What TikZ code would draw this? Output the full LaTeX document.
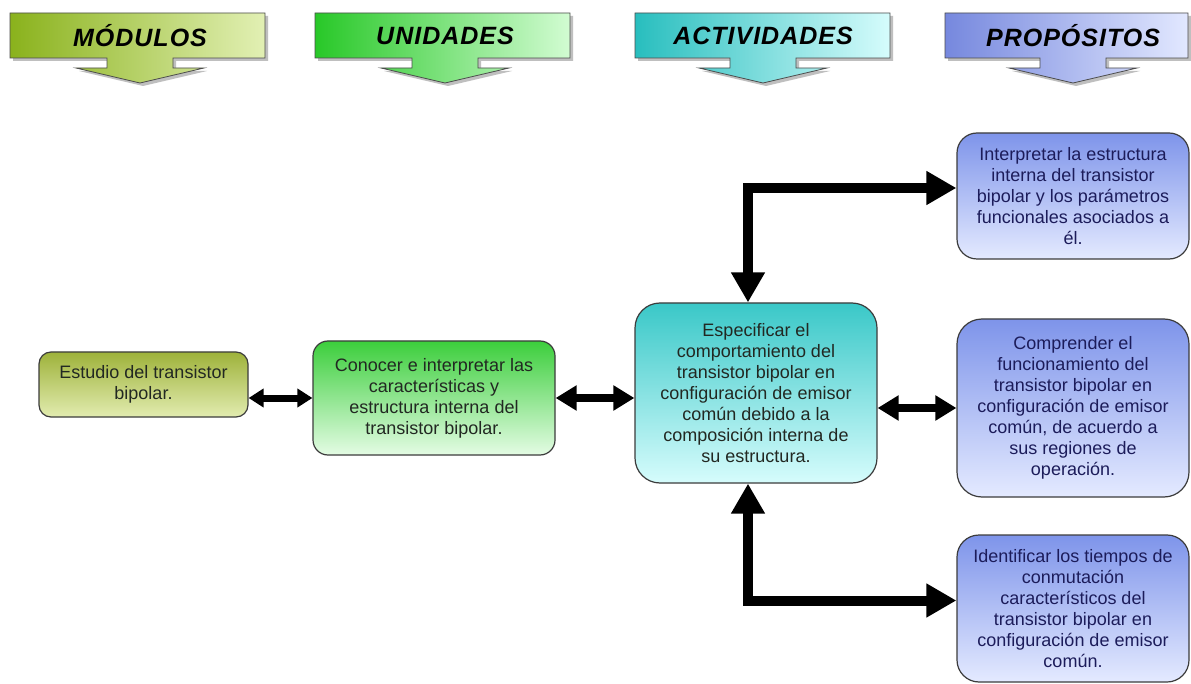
\documentclass[tikz,border=0pt]{standalone}
\usepackage{fontspec}
\setmainfont{Liberation Sans}
\newfontfamily\headfont[LetterSpace=4]{Liberation Sans}
\usetikzlibrary{arrows.meta}

% banner colours (left -> right)
\definecolor{modL}{RGB}{138,178,28}
\definecolor{modR}{RGB}{226,240,180}
\definecolor{uniL}{RGB}{40,200,40}
\definecolor{uniR}{RGB}{210,252,210}
\definecolor{actL}{RGB}{40,190,190}
\definecolor{actR}{RGB}{214,252,252}
\definecolor{proL}{RGB}{118,136,222}
\definecolor{proR}{RGB}{226,232,255}
% box colours (top -> bottom)
\definecolor{modT}{RGB}{158,178,58}
\definecolor{modB}{RGB}{226,236,176}
\definecolor{uniT}{RGB}{60,206,60}
\definecolor{uniB}{RGB}{228,252,228}
\definecolor{actT}{RGB}{58,200,200}
\definecolor{actB}{RGB}{214,252,252}
\definecolor{proT}{RGB}{126,148,234}
\definecolor{proB}{RGB}{228,234,255}
\definecolor{boxline}{RGB}{60,60,60}
\definecolor{navy}{RGB}{28,28,90}
\definecolor{darktxt}{RGB}{34,40,34}

\begin{document}
\begin{tikzpicture}[x=1pt,y=-1pt,
  box/.style={draw=boxline, line width=1.2pt, align=center, inner sep=0pt,
    font=\fontsize{18}{21}\selectfont},
  headtxt/.style={font=\headfont\fontsize{25}{28}\selectfont\bfseries\itshape, text=black},
  bigarrow/.style={line width=10pt, {Triangle[width=32pt,length=30pt]}-{Triangle[width=32pt,length=30pt]}},
  midarrow/.style={line width=8pt, {Triangle[width=24pt,length=21pt]}-{Triangle[width=24pt,length=21pt]}},
  smallarrow/.style={line width=7pt, {Triangle[width=18pt,length=15pt]}-{Triangle[width=18pt,length=15pt]}}
]
\useasboundingbox[fill=white] (0,0) rectangle (1191,684);

% header banners: rectangle with a downward arrow below it
\foreach \L/\R/\C/\cl/\cr in {10/265/140/modL/modR, 315/570/445/uniL/uniR,
                              635/890/763/actL/actR, 945/1188/1073/proL/proR}{
  \fill[black!25] (\L+3,16) -- (\R+3,16) -- (\R+3,61) -- ({\C+36},61) -- ({\C+36},71)
      -- ({\C+67},71) -- (\C+3,86) -- ({\C-61},71) -- ({\C-30},71) -- ({\C-30},61)
      -- (\L+3,61) -- cycle;
  \path[draw=black!70, line width=0.8pt, left color=\cl, right color=\cr]
      (\L,13) -- (\R,13) -- (\R,58) -- ({\C+33},58) -- ({\C+33},68)
      -- ({\C+64},68) -- (\C,83) -- ({\C-64},68) -- ({\C-33},68) -- ({\C-33},58)
      -- (\L,58) -- cycle;
}
\node[headtxt] (h1) at (140,36) {MÓDULOS};
\node[headtxt] (h2) at (445,36) {UNIDADES};
\node[headtxt] (h3) at (763,36) {ACTIVIDADES};
\node[headtxt] (h4) at (1073,36) {PROPÓSITOS};

% content boxes
\node[box, rounded corners=12pt, top color=modT, bottom color=modB, text=darktxt,
  minimum width=209pt, minimum height=65pt] (m1) at (143.5,384.5)
  {Estudio del transistor\\bipolar.};
\node[box, rounded corners=15pt, top color=uniT, bottom color=uniB, text=darktxt,
  minimum width=242pt, minimum height=114pt] (u1) at (434,398)
  {Conocer e interpretar las\\características y\\estructura interna del\\transistor bipolar.};
\node[box, rounded corners=25pt, top color=actT, bottom color=actB, text=darktxt,
  minimum width=242pt, minimum height=180pt] (a1) at (756,393)
  {Especificar el\\comportamiento del\\transistor bipolar en\\configuración de emisor\\común debido a la\\composición interna de\\su estructura.};
\node[box, rounded corners=20pt, top color=proT, bottom color=proB, text=navy,
  minimum width=232pt, minimum height=126pt] (p1) at (1073,196)
  {Interpretar la estructura\\interna del transistor\\bipolar y los parámetros\\funcionales asociados a\\él.};
\node[box, rounded corners=25pt, top color=proT, bottom color=proB, text=navy,
  minimum width=232pt, minimum height=178pt] (p2) at (1073,408)
  {Comprender el\\funcionamiento del\\transistor bipolar en\\configuración de emisor\\común, de acuerdo a\\sus regiones de\\operación.};
\node[box, rounded corners=22pt, top color=proT, bottom color=proB, text=navy,
  minimum width=232pt, minimum height=147pt] (p3) at (1073,608.5)
  {Identificar los tiempos de\\conmutación\\característicos del\\transistor bipolar en\\configuración de emisor\\común.};

% connectors
\coordinate (vx) at (748,0);
\draw[smallarrow] (u1.west -| m1.east) -- (u1.west);
\draw[midarrow] (u1.east) -- (u1.east -| a1.west);
\draw[midarrow] (p2.west -| a1.east) -- (p2.west);
\draw[bigarrow] (a1.north -| vx) |- ([yshift=8pt]p1.west);
\draw[bigarrow] (a1.south -| vx) |- ([yshift=8pt]p3.west);
\end{tikzpicture}
\end{document}
